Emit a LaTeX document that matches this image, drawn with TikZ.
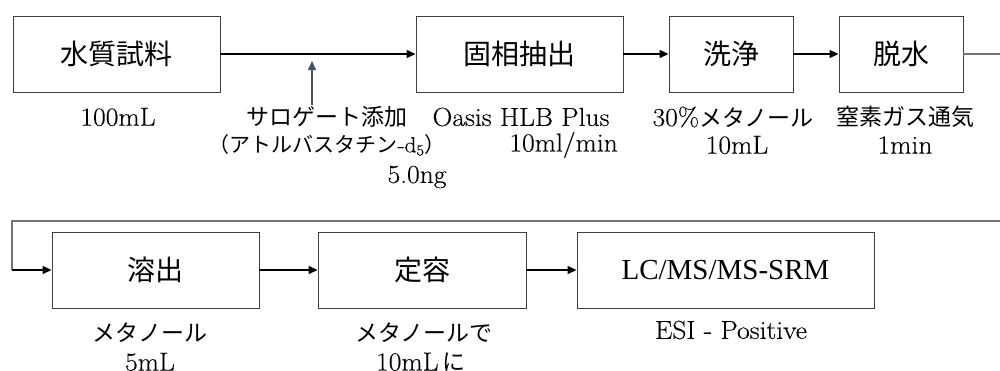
\documentclass[tikz,border=0pt]{standalone}
\usepackage{fontspec}
\setmainfont{Latin Modern Roman}[FakeStretch=1.06, FakeBold=0.25]
\newfontfamily\jp{Noto Sans CJK JP}
\newfontfamily\tms{Liberation Serif}
\usetikzlibrary{arrows.meta}
\definecolor{slate}{RGB}{68,84,106}
\tikzset{
  box/.style={draw=black!75, line width=0.9pt, inner sep=0pt, minimum height=76pt},
  boxtxt/.style={font=\fontsize{28}{30}\selectfont},
  lbl/.style={inner sep=0pt, font=\fontsize{26}{28}\selectfont},
  jlbl/.style={inner sep=0pt, font=\fontsize{23}{25}\selectfont\jp},
  conn/.style={line width=1.3pt, -{Triangle[length=9pt,width=8pt]}},
  plain/.style={line width=1.3pt, draw=black!55},
  sarrow/.style={line width=1.3pt, draw=slate, -{Triangle[length=9pt,width=8pt]}}
}
\newcommand\jps[1]{{\jp\fontsize{23}{25}\selectfont #1}}
\begin{document}
\begin{tikzpicture}[x=1pt,y=-1pt]
\useasboundingbox (0,0) rectangle (1000,370);
% row 1
\node[box, boxtxt, minimum width=207pt] (s1) at (116.5,54) {\jp 水質試料};
\node[box, boxtxt, minimum width=207pt] (s2) at (519.5,54) {\jp 固相抽出};
\node[box, boxtxt, minimum width=124pt] (s3) at (731,54) {\jp 洗浄};
\node[box, boxtxt, minimum width=124pt] (s4) at (901,54) {\jp 脱水};
% row 2
\node[box, boxtxt, minimum width=207pt] (s5) at (155.5,270) {\jp 溶出};
\node[box, boxtxt, minimum width=208pt] (s6) at (422,270) {\jp 定容};
\node[box, minimum width=297pt, font=\fontsize{29}{31}\selectfont\tms] (s7) at (725.5,270) {LC/MS/MS-SRM};
% connectors
\draw[conn] (s1) -- (s2);
\draw[conn] (s2) -- (s3);
\draw[conn] (s3) -- (s4);
\coordinate (r1) at (1000,54);
\coordinate (r2) at (1000,221);
\coordinate (l2) at (12,221);
\coordinate (l3) at (12,270);
\draw[plain] (s4.east) -- (r1);
\draw[plain] (r2) -- (l2) -- (l3);
\draw[conn] (l3) -- (s5.west);
\draw[conn] (s5) -- (s6);
\draw[conn] (s6) -- (s7);
\coordinate (sa) at (312,105);
\coordinate (sj) at (312,61);
\draw[sarrow] (sa) -- (sj);
% labels
\node[lbl] (t1) at (118,117) {100mL};
\node[jlbl] (t2) at (327,117) {サロゲート添加};
\node[lbl, font=\fontsize{22}{24}\selectfont] (t3) at (327,145) {{\jp\fontsize{21}{23}\selectfont （アトルバスタチン}-d\textsubscript{5}{\jp\fontsize{21}{23}\selectfont ）}};
\node[lbl] (t4) at (417,177) {5.0ng};
\node[lbl] (t5) at (521,117) {Oasis HLB Plus};
\node[lbl, anchor=east] (t6) at (618,145) {10ml/min};
\node[lbl] (t7) at (733,117) {30\%\jps{メタノール}};
\node[lbl] (t8) at (737,145) {10mL};
\node[jlbl] (t9) at (905,117) {窒素ガス通気};
\node[lbl] (t10) at (905,145) {1min};
\node[jlbl] (t11) at (150,333) {メタノール};
\node[lbl] (t12) at (150,362) {5mL};
\node[jlbl] (t13) at (424,333) {メタノールで};
\node[lbl] (t14) at (421,362) {10mL\,\jps{に}};
\node[lbl] (t15) at (731,330) {ESI - Positive};
\end{tikzpicture}
\end{document}
